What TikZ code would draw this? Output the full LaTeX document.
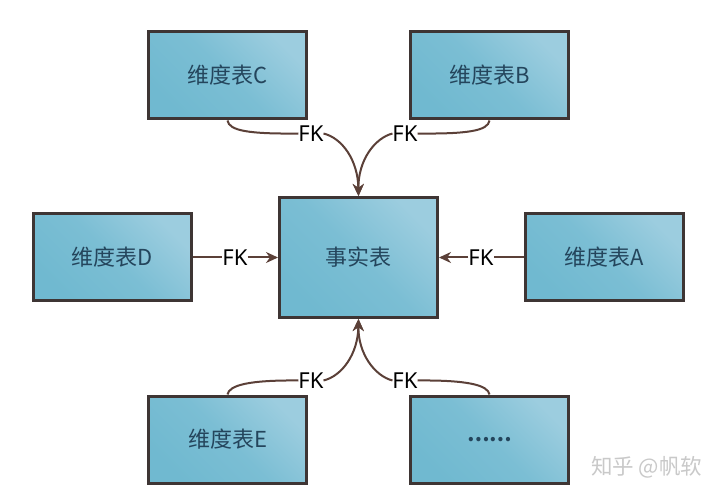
\documentclass[tikz,border=0pt]{standalone}
\usepackage{fontspec}
\setmainfont{Noto Sans}
\newfontfamily\cjk{Noto Sans CJK SC}
\definecolor{boxedge}{HTML}{3E3534}
\definecolor{boxlight}{HTML}{9CCDDF}
\definecolor{boxdark}{HTML}{70B9D0}
\definecolor{boxtext}{HTML}{24455C}
\definecolor{link}{HTML}{5B4038}
\definecolor{mark}{HTML}{C9C9C9}
\usetikzlibrary{arrows.meta}
\tikzset{
  x=1pt,y=-1pt,
  tablebox/.style={draw=boxedge,line width=3pt,minimum width=158pt,minimum height=87pt,inner sep=0pt,
    bottom color=boxdark,top color=boxlight,middle color=boxdark!75!boxlight,shading angle=-45,
    text=boxtext,font=\cjk\fontsize{22}{22}\selectfont},
  fk/.style={font=\fontsize{22}{22}\selectfont,text=black,inner sep=0pt,outer sep=0pt},
  conn/.style={draw=link,line width=2pt},
  arr/.style={conn,-{Stealth[length=12pt,width=11pt]}},
}
\begin{document}
\begin{tikzpicture}
\useasboundingbox (0,0) rectangle (724,500);
\fill[white] (0,0) rectangle (724,500);
\node[tablebox] (c) at (227.5,75.5) {维度表C};
\node[tablebox] (b) at (489.5,75.5) {维度表B};
\node[tablebox,minimum height=120pt] (f) at (358.5,257.5) {事实表};
\node[tablebox] (d) at (112,257.5) {维度表D};
\node[tablebox] (a) at (604.5,257.5) {维度表A};
\node[tablebox] (e) at (227.5,439.5) {维度表E};
\node[tablebox,font=\cjk\bfseries\fontsize{20}{20}\selectfont] (g) at (489.5,439.5) {……};
\node[fk] (fkc) at (311,133.5) {FK};
\node[fk] (fkb) at (405,133.5) {FK};
\node[fk] (fkd) at (235,257.5) {FK};
\node[fk] (fka) at (481,257.5) {FK};
\node[fk] (fke) at (311,380.5) {FK};
\node[fk] (fkg) at (405,380.5) {FK};
\draw[conn] (c.south) .. controls (229,131) and (250,134) .. (fkc.west);
\draw[conn] (b.south) .. controls (488,131) and (467,134) .. (fkb.east);
\draw[conn] (e.north) .. controls (229,385) and (250,380) .. (fke.west);
\draw[conn] (g.north) .. controls (488,385) and (467,380) .. (fkg.east);
\draw[arr] (fkc.east) .. controls (342,138) and (358,160) .. (f.north);
\draw[arr] (fkb.west) .. controls (375,138) and (358,160) .. (f.north);
\draw[arr] (fke.east) .. controls (342,376) and (358,354) .. (f.south);
\draw[arr] (fkg.west) .. controls (375,376) and (358,354) .. (f.south);
\draw[conn] (d.east) -- (fkd.west);
\draw[arr] (fkd.east) -- (f.west);
\draw[conn] (a.west) -- (fka.east);
\draw[arr] (fka.west) -- (f.east);
\node[text=mark,font=\cjk\fontsize{21.5}{22}\selectfont,anchor=west,inner sep=0pt] (wm) at (591,467) {知乎 @帆软};
\end{tikzpicture}
\end{document}
